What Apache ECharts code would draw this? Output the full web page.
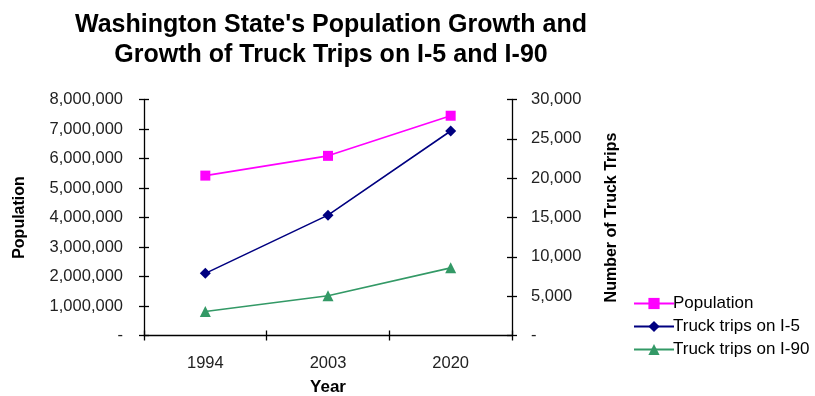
<!DOCTYPE html>
<html>
<head>
<meta charset="utf-8">
<script src="https://cdn.jsdelivr.net/npm/echarts@6/dist/echarts.min.js"></script>
<style>
html,body{margin:0;padding:0;background:#fff;}
#chart{width:815px;height:396px;}
</style>
</head>
<body>
<div id="chart"></div>
<script>
const years = ['1994', '2003', '2020'];
const population = [5420000, 6090000, 7450000];
const truckI5 = [7900, 15300, 26000];
const truckI90 = [3050, 5050, 8600];
const seriesNames = ['Population', 'Truck trips on I-5', 'Truck trips on I-90'];
const titleText = "Washington State's Population Growth and\nGrowth of Truck Trips on I-5 and I-90";

const FONT = '"Liberation Sans", Arial, Helvetica, sans-serif';
function fmt(v) {
  if (v === 0) return '-';
  return String(v).replace(/\B(?=(\d{3})+(?!\d))/g, ',');
}
const chart = echarts.init(document.getElementById('chart'), null, {renderer: 'canvas'});
const axisLine = {show: true, lineStyle: {color: '#000', width: 1.3}};
const tickStyle = {color: '#000', width: 1.3};
const labelStyle = {color: '#222', fontSize: 16.5, fontFamily: FONT};
const nameStyle = {color: '#000', fontSize: 16, fontWeight: 'bold', fontFamily: FONT};

const option = {
  backgroundColor: '#fff',
  animation: false,
  graphic: [{
    type: 'text',
    x: 331, y: 10,
    style: {
      text: titleText,
      fill: '#000',
      font: 'bold 25px ' + FONT,
      textAlign: 'center',
      lineHeight: 30
    }
  }],
  legend: {
    orient: 'vertical',
    left: 628,
    top: 290,
    itemWidth: 40,
    itemHeight: 14,
    itemGap: 6,
    textStyle: {color: '#000', fontSize: 17, fontFamily: FONT, padding: [0, 0, 0, -6]},
    data: seriesNames
  },
  grid: {left: 144, right: 303, top: 99.5, bottom: 60.5, containLabel: false, outerBoundsMode: 'none'},
  xAxis: [{
    type: 'category',
    data: years,
    boundaryGap: true,
    axisLine: axisLine,
    axisTick: {show: true, length: 5, lineStyle: tickStyle},
    axisLabel: Object.assign({margin: 19}, labelStyle),
    name: 'Year',
    nameLocation: 'middle',
    nameGap: 43,
    nameTextStyle: Object.assign({}, nameStyle, {fontSize: 17}),
    splitLine: {show: false}
  }, {
    type: 'category',
    data: years,
    position: 'bottom',
    boundaryGap: true,
    axisLine: {show: false},
    axisTick: {show: true, inside: true, length: 5, lineStyle: tickStyle},
    axisLabel: {show: false},
    splitLine: {show: false}
  }],
  yAxis: [{
    type: 'value',
    position: 'left',
    min: 0, max: 8000000, interval: 1000000,
    axisLine: axisLine,
    axisTick: {show: true, length: 5, lineStyle: tickStyle},
    axisLabel: Object.assign({margin: 21, formatter: fmt}, labelStyle),
    splitLine: {show: false},
    name: 'Population',
    nameLocation: 'middle',
    nameGap: 116,
    nameRotate: 90,
    nameTextStyle: nameStyle
  }, {
    type: 'value',
    position: 'right',
    min: 0, max: 30000, interval: 5000,
    axisLine: axisLine,
    axisTick: {show: true, length: 5, lineStyle: tickStyle},
    axisLabel: Object.assign({margin: 19, formatter: fmt}, labelStyle),
    splitLine: {show: false},
    name: 'Number of Truck Trips',
    nameLocation: 'middle',
    nameGap: 92,
    nameRotate: 90,
    nameTextStyle: nameStyle
  }, {
    type: 'value',
    position: 'left',
    min: 0, max: 8000000, interval: 1000000,
    axisLine: {show: false},
    axisTick: {show: true, inside: true, length: 5, lineStyle: tickStyle},
    axisLabel: {show: false},
    splitLine: {show: false}
  }, {
    type: 'value',
    position: 'right',
    min: 0, max: 30000, interval: 5000,
    axisLine: {show: false},
    axisTick: {show: true, inside: true, length: 5, lineStyle: tickStyle},
    axisLabel: {show: false},
    splitLine: {show: false}
  }],
  series: [{
    name: seriesNames[0],
    type: 'line',
    yAxisIndex: 0,
    data: population,
    symbol: 'rect',
    symbolSize: 10,
    lineStyle: {color: '#FF00FF', width: 1.6},
    itemStyle: {color: '#FF00FF'}
  }, {
    name: seriesNames[1],
    type: 'line',
    yAxisIndex: 1,
    data: truckI5,
    symbol: 'diamond',
    symbolSize: 11,
    lineStyle: {color: '#000080', width: 1.6},
    itemStyle: {color: '#000080'}
  }, {
    name: seriesNames[2],
    type: 'line',
    yAxisIndex: 1,
    data: truckI90,
    symbol: 'triangle',
    symbolSize: 11,
    lineStyle: {color: '#339966', width: 1.6},
    itemStyle: {color: '#339966'}
  }]
};
chart.setOption(option);
</script>
</body>
</html>
